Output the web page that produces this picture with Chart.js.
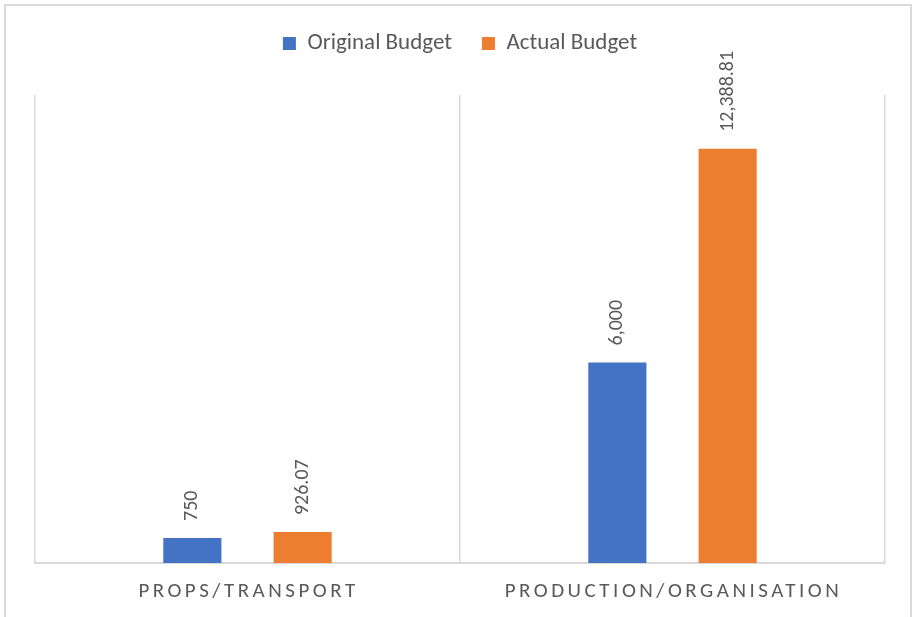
<!DOCTYPE html>
<html>
<head>
<meta charset="utf-8">
<script src="https://cdn.jsdelivr.net/npm/chart.js@4.4.1/dist/chart.umd.min.js"></script>
<style>
  html, body { margin: 0; padding: 0; background: #fff; }
  #wrap { width: 912px; height: 617px; }
</style>
</head>
<body>
<div id="wrap"><canvas id="budgetChart" width="912" height="617"></canvas></div>
<script>
const categories = ['PROPS/TRANSPORT', 'PRODUCTION/ORGANISATION'];
const originalBudget = [750, 6000];
const actualBudget = [926.07, 12388.81];

const FONT = 'Carlito, Calibri, "Open Sans", sans-serif';
const textGray = '#595959';

// outer frame of the chart
const framePlugin = {
    id: 'frame',
    beforeDraw(chart) {
        const ctx = chart.ctx;
        ctx.save();
        ctx.strokeStyle = '#d9d9d9';
        ctx.lineWidth = 2;
        ctx.beginPath();
        ctx.moveTo(5, 617);
        ctx.lineTo(5, 5);
        ctx.lineTo(911, 5);
        ctx.lineTo(911, 617);
        ctx.stroke();
        ctx.restore();
    }
};

// extra room under the legend
const legendGap = {
    id: 'legendGap',
    beforeLayout(chart) {
        const lg = chart.legend;
        if (!lg || lg._gapPatched) return;
        const fit = lg.fit;
        lg.fit = function () {
            fit.call(this);
            this.height += 30;
        };
        lg._gapPatched = true;
    }
};

// rotated value labels above each bar
const valueLabels = {
    id: 'valueLabels',
    afterDatasetsDraw(chart) {
        const ctx = chart.ctx;
        ctx.save();
        ctx.fillStyle = textGray;
        ctx.font = '20px ' + FONT;
        chart.data.datasets.forEach((ds, i) => {
            chart.getDatasetMeta(i).data.forEach((bar, j) => {
                const txt = ds.data[j].toLocaleString('en-US', { maximumFractionDigits: 2 });
                ctx.save();
                ctx.translate(bar.x, bar.y - 17);
                ctx.rotate(-Math.PI / 2);
                ctx.textAlign = 'left';
                ctx.textBaseline = 'middle';
                ctx.fillText(txt, 0, 0);
                ctx.restore();
            });
        });
        ctx.restore();
    }
};

// category labels with wide letter spacing
const categoryLabels = {
    id: 'categoryLabels',
    afterDraw(chart) {
        const ctx = chart.ctx;
        const xs = chart.scales.x;
        ctx.save();
        ctx.fillStyle = textGray;
        ctx.font = '21px ' + FONT;
        ctx.letterSpacing = '3.5px';
        ctx.textAlign = 'center';
        ctx.textBaseline = 'middle';
        categories.forEach((c, i) => {
            ctx.fillText(c, xs.getPixelForValue(i) + 1, 592);
        });
        ctx.restore();
    }
};

const ctx = document.getElementById('budgetChart').getContext('2d');
new Chart(ctx, {
    type: 'bar',
    data: {
        labels: categories,
        datasets: [
            {
                label: 'Original Budget',
                data: originalBudget,
                backgroundColor: '#4472C4'
            },
            {
                label: 'Actual Budget',
                data: actualBudget,
                backgroundColor: '#ED7D31'
            }
        ]
    },
    options: {
        responsive: false,
        animation: false,
        categoryPercentage: 0.519,
        barPercentage: 0.527,
        layout: {
            padding: { left: 35, right: 27, top: 2, bottom: 54 }
        },
        plugins: {
            legend: {
                position: 'top',
                labels: {
                    boxWidth: 13,
                    boxHeight: 13,
                    color: textGray,
                    font: { family: FONT, size: 23 },
                    padding: 30
                }
            },
            tooltip: { enabled: false }
        },
        scales: {
            x: {
                grid: { color: '#d9d9d9', lineWidth: 1.5, drawTicks: false, offset: true },
                border: { color: '#d9d9d9', width: 2 },
                ticks: { display: false }
            },
            y: {
                display: false,
                min: 0,
                max: 14000
            }
        }
    },
    plugins: [framePlugin, legendGap, valueLabels, categoryLabels]
});
</script>
</body>
</html>
